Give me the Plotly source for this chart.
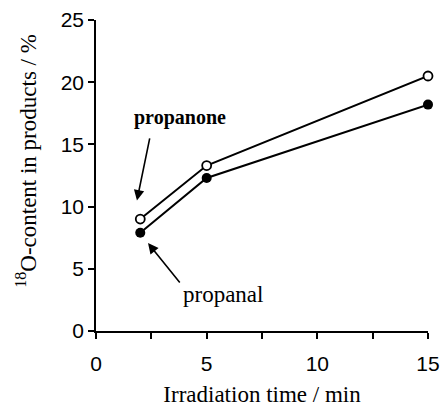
import plotly.graph_objects as go

time_min = [2, 5, 15]
propanone = [9.0, 13.3, 20.5]
propanal = [7.9, 12.3, 18.2]
x_tick_vals = [0, 2.5, 5, 7.5, 10, 12.5, 15]
x_tick_text = ["0", "", "5", "", "10", "", "15"]
y_tick_vals = [0, 5, 10, 15, 20, 25]

SERIF = "Liberation Serif, Times New Roman, serif"
SANS = "Liberation Sans, Arial, sans-serif"

fig = go.Figure()
fig.add_trace(go.Scatter(x=time_min, y=propanone, mode="lines+markers", name="propanone",
                         line=dict(color="black", width=2),
                         marker=dict(symbol="circle", size=9, color="white",
                                     line=dict(color="black", width=1.8)),
                         cliponaxis=False, showlegend=False))
fig.add_trace(go.Scatter(x=time_min, y=propanal, mode="lines+markers", name="propanal",
                         line=dict(color="black", width=2),
                         marker=dict(symbol="circle", size=10, color="black"),
                         cliponaxis=False, showlegend=False))

fig.add_annotation(x=1.85, y=10.5, ax=2.44, ay=15.6, xref="x", yref="y", axref="x", ayref="y",
                   text="", showarrow=True, arrowhead=2, arrowsize=1.3, arrowwidth=1.6, arrowcolor="black")
fig.add_annotation(x=2.35, y=7.07, ax=3.84, ay=3.78, xref="x", yref="y", axref="x", ayref="y",
                   text="", showarrow=True, arrowhead=2, arrowsize=1.3, arrowwidth=1.6, arrowcolor="black")
fig.add_annotation(x=3.8, y=17.2, xref="x", yref="y", text="<b>propanone</b>", showarrow=False,
                   font=dict(family=SERIF, size=20, color="black"))
fig.add_annotation(x=5.75, y=2.9, xref="x", yref="y", text="propanal", showarrow=False,
                   font=dict(family=SERIF, size=23, color="black"))
fig.add_annotation(x=-0.208, y=0.547, xref="paper", yref="paper",
                   text="<sup>18</sup>O-content in products / %", textangle=-90,
                   showarrow=False, xanchor="center", yanchor="middle",
                   font=dict(family=SERIF, size=23, color="black"))

fig.update_xaxes(range=[0, 15], tickvals=x_tick_vals, ticktext=x_tick_text, automargin=False,
                 ticks="outside", ticklen=6, tickwidth=1.5, tickcolor="black", ticklabelstandoff=7,
                 showline=True, linecolor="black", linewidth=1.5, showgrid=False, zeroline=False,
                 tickfont=dict(family=SANS, size=21, color="black"),
                 title=dict(text="Irradiation time / min", font=dict(family=SERIF, size=23, color="black"),
                            standoff=14))
fig.update_yaxes(range=[0, 25], tickvals=y_tick_vals, automargin=False,
                 ticks="outside", ticklen=6, tickwidth=1.5, tickcolor="black",
                 showline=True, linecolor="black", linewidth=1.5, showgrid=False, zeroline=False,
                 tickfont=dict(family=SANS, size=21, color="black"))

fig.update_layout(width=441, height=407, margin=dict(l=96, r=13, t=20, b=76),
                  paper_bgcolor="white", plot_bgcolor="white")
fig.write_html("out.html")
